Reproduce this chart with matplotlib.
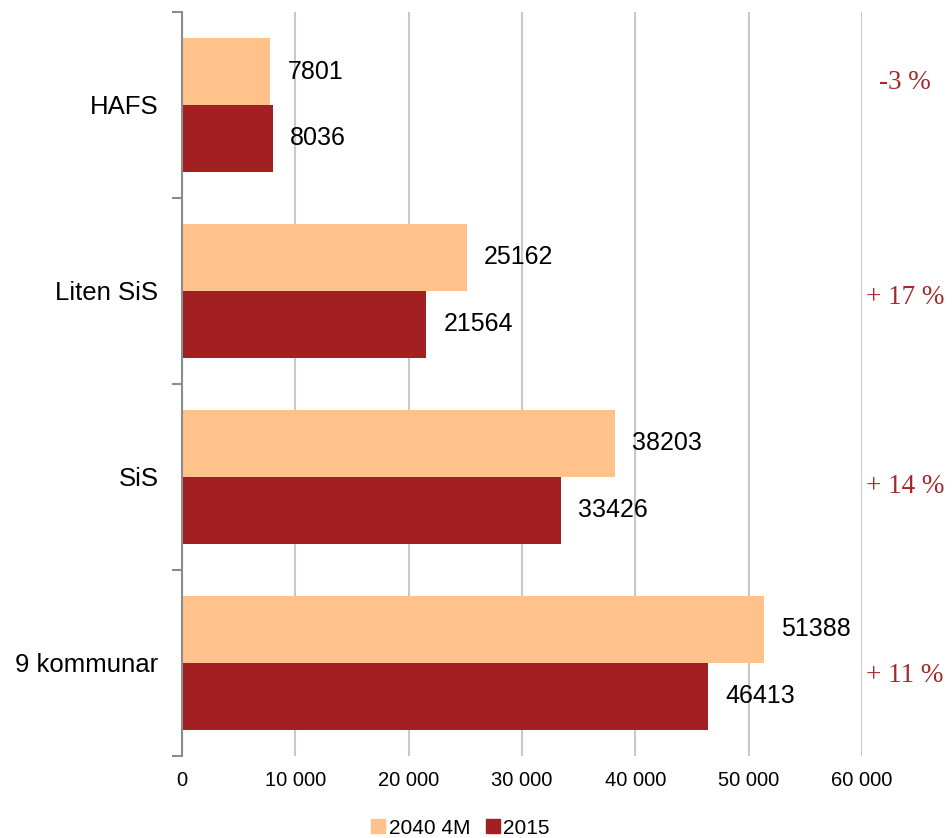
import matplotlib
matplotlib.use("Agg")
import matplotlib.pyplot as plt
from matplotlib.lines import Line2D
import numpy as np

plt.rcParams['font.family'] = ['Liberation Sans', 'DejaVu Sans']

categories = ['HAFS', 'Liten SiS', 'SiS', '9 kommunar']
v2040 = [7801, 25162, 38203, 51388]
v2015 = [8036, 21564, 33426, 46413]
changes = ['-3 %', '+ 17 %', '+ 14 %', '+ 11 %']
xticks = [0, 10000, 20000, 30000, 40000, 50000, 60000]

c_light = '#FFC28B'
c_dark = '#A21F22'
c_text = '#A3292B'

fig = plt.figure(figsize=(9.52, 8.38), dpi=100)
ax = fig.add_axes([0.1912, 0.0979, 0.7143, 0.8878])

y = np.arange(len(categories))
h = 0.36
ax.barh(y - h / 2, v2040, height=h, color=c_light, zorder=3)
ax.barh(y + h / 2, v2015, height=h, color=c_dark, zorder=3)

for i in range(len(categories)):
    ax.text(v2040[i] + 1500, y[i] - h / 2, str(v2040[i]), va='center', ha='left', fontsize=18)
    ax.text(v2015[i] + 1500, y[i] + h / 2, str(v2015[i]), va='center', ha='left', fontsize=18)
    yy = y[i] - 0.12 if i == 0 else y[i] + 0.02 + 0.015 * i
    ax.text(63800, yy, changes[i], va='center', ha='center', fontsize=19.5,
            family=['Liberation Serif', 'DejaVu Serif'], color=c_text, clip_on=False)

ax.set_xlim(0, 60000)
ax.set_ylim(3.5, -0.5)
ax.set_xticks(xticks)
ax.set_xticklabels(['{:,}'.format(t).replace(',', ' ') for t in xticks], fontsize=14.5)
ax.tick_params(axis='x', length=0, pad=11)
ax.set_yticks(y)
ax.set_yticklabels(categories, fontsize=18.5)
ax.set_yticks(np.arange(-0.5, 4.0, 1.0), minor=True)
ax.tick_params(axis='y', which='major', length=0, pad=17)
ax.tick_params(axis='y', which='minor', length=7, width=1.5, color='#8C8C8C', direction='out')

ax.grid(axis='x', color='#C8C8C8', linewidth=1.5, zorder=0)
for s in ['top', 'right', 'bottom']:
    ax.spines[s].set_visible(False)
ax.spines['left'].set_color('#8C8C8C')
ax.spines['left'].set_linewidth(1.5)
ax.spines['left'].set_zorder(4)

handles = [Line2D([], [], marker='s', linestyle='', markersize=10, color=c_light),
           Line2D([], [], marker='s', linestyle='', markersize=10, color=c_dark)]
fig.legend(handles, ['2040 4M', '2015'], loc='lower center', bbox_to_anchor=(0.482, -0.022),
           ncol=2, frameon=False, fontsize=15, handletextpad=0.0, columnspacing=0.6,
           handlelength=1.0)

fig.savefig('out.png', dpi=100)
